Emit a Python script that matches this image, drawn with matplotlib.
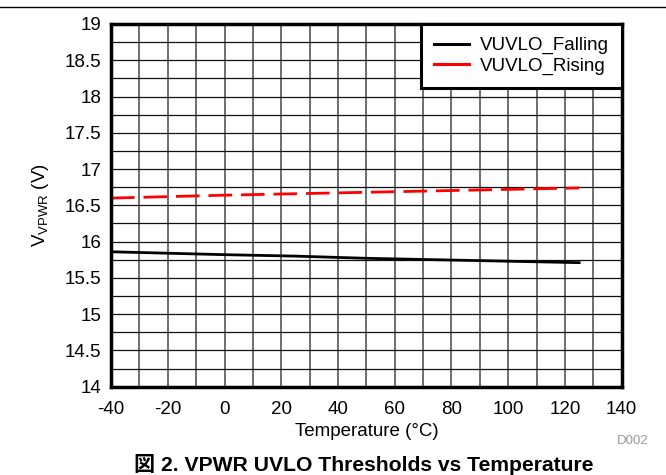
import matplotlib
matplotlib.use("Agg")
import matplotlib.pyplot as plt
from matplotlib.lines import Line2D
import numpy as np

temps = [-40, -20, 0, 25, 50, 75, 100, 125]
falling = [15.86, 15.84, 15.82, 15.80, 15.77, 15.75, 15.73, 15.71]
rising = [16.60, 16.62, 16.64, 16.66, 16.68, 16.70, 16.72, 16.74]
xticks = [-40, -20, 0, 20, 40, 60, 80, 100, 120, 140]
yticks = [14, 14.5, 15, 15.5, 16, 16.5, 17, 17.5, 18, 18.5, 19]
ytick_labels = ["14", "14.5", "15", "15.5", "16", "16.5", "17", "17.5", "18", "18.5", "19"]

plt.rcParams['font.family'] = ['Liberation Sans', 'Noto Sans CJK JP', 'DejaVu Sans']
plt.rcParams['mathtext.fontset'] = 'custom'
plt.rcParams['mathtext.rm'] = 'Liberation Sans'

fig = plt.figure(figsize=(6.66, 4.75), dpi=100)
ax = fig.add_axes([0.1667, 0.1859, 0.7668, 0.7636])

# grid
ax.set_xticks(np.arange(-40, 141, 10), minor=True)
ax.set_yticks(np.arange(14, 19.01, 0.25), minor=True)
ax.grid(which='both', axis='x', color='#6e6e6e', linewidth=1.4)
ax.grid(which='both', axis='y', color='#111111', linewidth=0.9)
ax.set_axisbelow(True)

ax.plot(temps, falling, color='black', linewidth=2.0)
ax.plot(temps, rising, color='#ff0000', linewidth=2.0, dashes=(8.5, 3.2))

ax.set_xlim(-40, 140)
ax.set_ylim(14, 19)
ax.set_xticks(xticks)
ax.set_xticklabels([str(t) for t in xticks])
ax.set_yticks(yticks)
ax.set_yticklabels(ytick_labels)
ax.tick_params(which='both', length=0, labelsize=13.5)
ax.tick_params(axis='x', pad=10)
ax.tick_params(axis='y', pad=7)
for s in ax.spines.values():
    s.set_linewidth(2.5)

ax.set_xlabel('Temperature (°C)', fontsize=13.5, labelpad=4)
ax.set_ylabel(r'V$_{\mathregular{VPWR}}$ (V)', fontsize=13.5, labelpad=10)

handles = [Line2D([], [], color='black', linewidth=2.2),
           Line2D([], [], color='#ff0000', linewidth=2.2)]
leg = ax.legend(handles, ['VUVLO_Falling', 'VUVLO_Rising'], loc='upper right',
                borderaxespad=0, fontsize=13.5, fancybox=False,
                framealpha=1, edgecolor='black', handlelength=1.9, handletextpad=0.55,
                labelspacing=0.15, borderpad=0.7)
leg.get_frame().set_linewidth(2.2)

fig.lines.append(Line2D([0, 1], [1 - 7/475, 1 - 7/475], transform=fig.transFigure,
                        color='black', linewidth=1))
fig.text(633/666, 1 - 441/475, 'D002', color='#999999', fontsize=9.5, ha='center', va='center')
fig.text(364/666, 1 - 464/475, '図 2. VPWR UVLO Thresholds vs Temperature',
         fontsize=15.2, fontweight='bold', ha='center', va='center')

fig.savefig('out.png', dpi=100)
